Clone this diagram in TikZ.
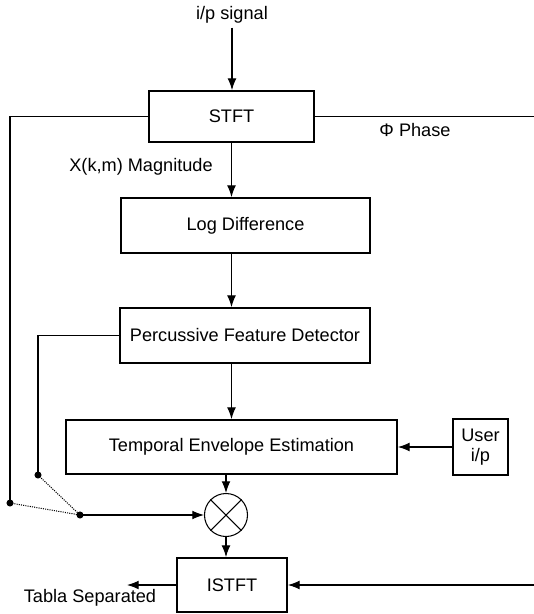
\documentclass[tikz,border=0pt]{standalone}
\usepackage{fontspec}
\setmainfont{Liberation Sans}
\usepackage{tikz}
\usetikzlibrary{arrows.meta,positioning,calc}

\tikzset{
  blk/.style={draw,line width=1.5pt,inner sep=0pt},
  conn/.style={line width=0.9pt},
  arr/.style={conn,-{Latex[length=10pt,width=7.5pt]}},
  fb/.style={line width=1.4pt},
  jdot/.style={densely dotted,line width=0.9pt}
}

\begin{document}
\begin{tikzpicture}[x=0.03cm,y=-0.03cm,font=\fontsize{15.5}{17.5}\selectfont]
        \useasboundingbox (0,0) rectangle (534,614);

            \node (sig) at (232,15) {i/p signal};
            \node (stft) at (231.5,116.5) [blk,minimum width=4.95cm,minimum height=1.53cm] {STFT};
            \node (mag) at (141,167) {X(k,m) Magnitude};
            \node (phase) at (415,130) {Φ Phase};
            \node (logd) at (245.5,225.5) [blk,minimum width=7.47cm,minimum height=1.65cm] {Log Difference};
            \node (pfd) at (245,335.5) [blk,minimum width=7.5cm,minimum height=1.65cm] {Percussive Feature Detector};
            \node (ted) at (231.5,447) [blk,minimum width=9.93cm,minimum height=1.62cm] {Temporal Envelope Estimation};
            \node (user) at (480.5,447) [blk,minimum width=1.65cm,minimum height=1.68cm,align=center] {User\\i/p};
            \node (mult) at (226,515) [draw,circle,conn,minimum size=1.29cm,inner sep=0pt] {};
            \node (istft) at (232,585) [blk,minimum width=3.3cm,minimum height=1.62cm] {ISTFT};
            \node (tabla) at (90,598) {Tabla Separated};

            \coordinate (ja) at (10,503);
            \coordinate (jb) at (38,475);
            \coordinate (jc) at (80,515);
            \coordinate (phend) at (534,114);
            \coordinate (phin) at (534,585);
            \coordinate (out) at (127,585);

            % multiplier cross
            \draw[conn] (mult.45)--(mult.225) (mult.135)--(mult.315);

            \draw[arr] (sig.south)--(sig.south |- stft.north);
            \draw[arr] (stft.south)--(stft.south |- logd.north);
            \draw[arr] (logd.south -| stft)--(pfd.north -| stft);
            \draw[arr] (pfd.south -| ted)--(ted.north);
            \draw[arr] (ted.south -| mult)--(mult.north);
            \draw[arr] (mult.south)--(istft.north -| mult);
            \draw[arr] (user.west)--(ted.east);
            \draw[arr] (jc)--(mult.west);
            \draw[arr] (istft.west)--(out);
            \draw[arr] (phin)--(istft.east);
            \draw[conn] (stft.east)--(stft.east -| phend);

            % feedback lines to the switch
            \draw[fb] (stft.west) -| (ja);
            \draw[fb] (pfd.west) -| (jb);
            \draw[jdot] (ja)--(jc);
            \draw[jdot] (jb)--(jc);
            \fill (ja) circle (3pt);
            \fill (jb) circle (3pt);
            \fill (jc) circle (3pt);
        \end{tikzpicture}
\end{document}
